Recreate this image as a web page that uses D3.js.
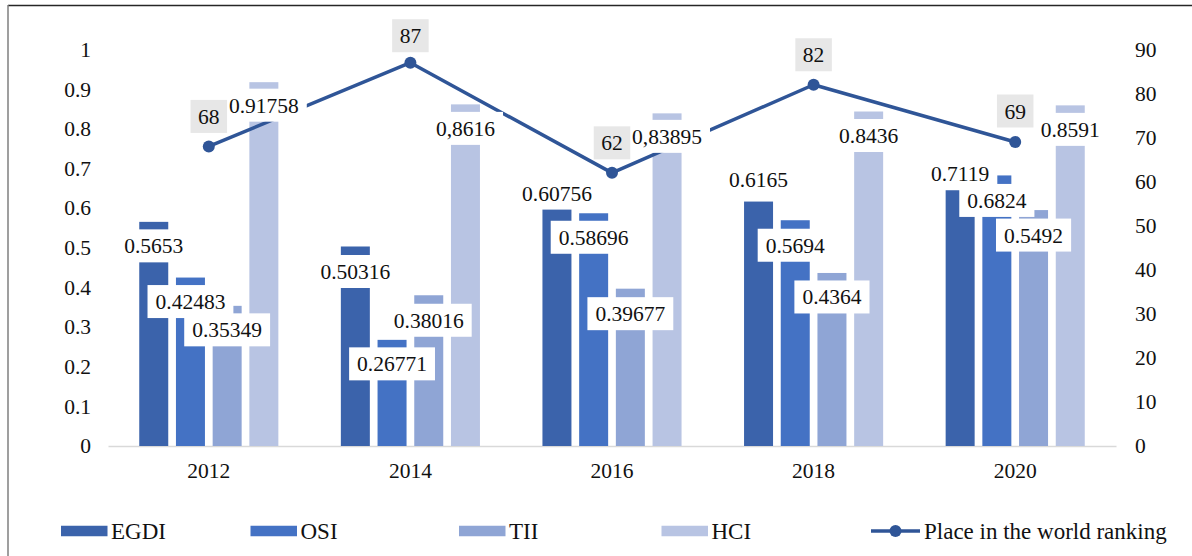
<!DOCTYPE html>
<html>
<head>
<meta charset="utf-8">
<script src="https://cdn.jsdelivr.net/npm/d3@7"></script>
<style>
  html, body { margin: 0; padding: 0; background: #fff; }
  svg { display: block; }
  svg text { font-family: "Liberation Serif", "DejaVu Serif", serif; }
</style>
</head>
<body>
<svg id="chart" width="1192" height="556"></svg>
<script>
// ---------- data ----------
const years = ["2012", "2014", "2016", "2018", "2020"];
const seriesNames = ["EGDI", "OSI", "TII", "HCI"];
const egdi = [0.5653, 0.50316, 0.60756, 0.6165, 0.7119];
const osi  = [0.42483, 0.26771, 0.58696, 0.5694, 0.6824];
const tii  = [0.35349, 0.38016, 0.39677, 0.4364, 0.595];
const hci  = [0.91758, 0.8616, 0.83895, 0.8436, 0.8591];
const egdiLabels = ["0.5653", "0.50316", "0.60756", "0.6165", "0.7119"];
const osiLabels  = ["0.42483", "0.26771", "0.58696", "0.5694", "0.6824"];
const tiiLabels  = ["0.35349", "0.38016", "0.39677", "0.4364", "0.5492"];
const hciLabels  = ["0.91758", "0,8616", "0,83895", "0.8436", "0.8591"];
const ranking = [68, 87, 62, 82, 69];
const rankingName = "Place in the world ranking";
const leftTicks = [0, 0.1, 0.2, 0.3, 0.4, 0.5, 0.6, 0.7, 0.8, 0.9, 1];
const rightTicks = [0, 10, 20, 30, 40, 50, 60, 70, 80, 90];

// ---------- styling / layout ----------
const FONT = "Liberation Serif";
const colors = { EGDI: "#3b63ab", OSI: "#4472c4", TII: "#8fa5d5", HCI: "#b8c4e3" };
const lineColor = "#2f5597";
const labelShift = { EGDI: [24, 25, -12, -22, 10], OSI: [24, 24, 24, 25, 25], TII: [24, 25, 25, 24, 25], HCI: [23, 24, 23, 24, 24] };
const rankShift = [-30, -27, -30, -30, -31];
const fontSize = 21.5;

const svg = d3.select("#chart");
const W = 1192, H = 556;
const plot = { left: 108, right: 1116, top: 49.5, bottom: 446 };

svg.append("rect").attr("width", W).attr("height", H).attr("fill", "#fff");
// outer frame (cropped)
svg.append("line").attr("x1", 8).attr("x2", W).attr("y1", 5.5).attr("y2", 5.5).attr("stroke", "#262626").attr("stroke-width", 1.5);
svg.append("line").attr("x1", 8).attr("x2", 8).attr("y1", 5).attr("y2", H).attr("stroke", "#7f7f7f").attr("stroke-width", 1.5);

const seriesData = { EGDI: egdi, OSI: osi, TII: tii, HCI: hci };
const seriesLabels = { EGDI: egdiLabels, OSI: osiLabels, TII: tiiLabels, HCI: hciLabels };

const x0 = d3.scaleBand().domain(years).range([plot.left, plot.right]).padding(0);
const groupHalf = 69.55;
const x1 = d3.scaleBand().domain(seriesNames).range([-groupHalf, groupHalf]).paddingInner(0.21).paddingOuter(0);
const yL = d3.scaleLinear().domain([0, 1]).range([plot.bottom, plot.top]);
const yR = d3.scaleLinear().domain([0, 90]).range([plot.bottom, plot.top]);

function styleText(sel, size) {
  sel.attr("font-size", size).attr("font-family", FONT).attr("fill", "#111");
}

// axes labels
const gl = svg.append("g").attr("transform", "translate(91,0)")
  .call(d3.axisLeft(yL).tickValues(leftTicks).tickSize(0).tickPadding(0).tickFormat(d3.format("~g")));
gl.attr("font-family", FONT);
gl.select(".domain").remove();
styleText(gl.selectAll("text"), fontSize);

const gr = svg.append("g").attr("transform", "translate(1135,0)")
  .call(d3.axisRight(yR).tickValues(rightTicks).tickSize(0).tickPadding(0));
gr.attr("font-family", FONT);
gr.select(".domain").remove();
styleText(gr.selectAll("text"), fontSize);

const gx = svg.append("g").attr("transform", `translate(0,${plot.bottom})`)
  .call(d3.axisBottom(x0).tickSize(0).tickPadding(17));
gx.attr("font-family", FONT);
gx.select(".domain").attr("stroke", "#d9d9d9").attr("stroke-width", 1.5);
styleText(gx.selectAll("text"), fontSize);

// bars
const barRecords = [];
years.forEach((yr, i) => {
  seriesNames.forEach(s => {
    barRecords.push({ year: yr, i, series: s, value: seriesData[s][i], label: seriesLabels[s][i] });
  });
});

svg.append("g").selectAll("rect").data(barRecords).join("rect")
  .attr("x", d => x0(d.year) + x0.bandwidth() / 2 + x1(d.series))
  .attr("width", x1.bandwidth())
  .attr("y", d => yL(d.value))
  .attr("height", d => yL(0) - yL(d.value))
  .attr("fill", d => colors[d.series]);

// line
const cx = i => x0(years[i]) + x0.bandwidth() / 2;
const line = d3.line().x((d, i) => cx(i)).y(d => yR(d));
svg.append("path").datum(ranking).attr("d", line)
  .attr("fill", "none").attr("stroke", lineColor).attr("stroke-width", 3.5).attr("stroke-linejoin", "round");
svg.append("g").selectAll("circle").data(ranking).join("circle")
  .attr("cx", (d, i) => cx(i)).attr("cy", d => yR(d)).attr("r", 6).attr("fill", lineColor);

// bar labels (white boxes)
const boxH = 33, pad = 8;
const bl = svg.append("g").selectAll("g").data(barRecords).join("g")
  .attr("transform", d => {
    const bx = x0(d.year) + x0.bandwidth() / 2 + x1(d.series) + x1.bandwidth() / 2;
    const by = yL(d.value) + labelShift[d.series][d.i];
    return `translate(${bx},${by})`;
  });
bl.each(function (d) {
  const g = d3.select(this);
  const r = g.append("rect").attr("fill", "#fff");
  const t = g.append("text").text(d.label)
    .attr("text-anchor", "middle").attr("dy", "0.35em");
  styleText(t, fontSize);
  const w = t.node().getComputedTextLength() + pad * 2;
  r.attr("x", -w / 2).attr("y", -boxH / 2).attr("width", w).attr("height", boxH);
});

// ranking labels (gray boxes)
const rl = svg.append("g").selectAll("g").data(ranking).join("g")
  .attr("transform", (d, i) => `translate(${cx(i)},${yR(d) + rankShift[i]})`);
rl.each(function (d) {
  const g = d3.select(this);
  const r = g.append("rect").attr("fill", "#e7e7e7");
  const t = g.append("text").text(d)
    .attr("text-anchor", "middle").attr("dy", "0.35em");
  styleText(t, fontSize);
  const w = t.node().getComputedTextLength() + 15;
  r.attr("x", -w / 2).attr("y", -boxH / 2).attr("width", w).attr("height", boxH);
});

// legend
const legendY = 531;
const legendX = [61, 250.5, 459, 661.5, 871];
const legendItems = seriesNames.map(s => ({ name: s, type: "bar" })).concat([{ name: rankingName, type: "line" }]);
const lg = svg.append("g").selectAll("g").data(legendItems).join("g")
  .attr("transform", (d, i) => `translate(${legendX[i]},${legendY})`);
lg.each(function (d) {
  const g = d3.select(this);
  if (d.type === "bar") {
    g.append("rect").attr("x", 0).attr("y", -5.25).attr("width", 46.5).attr("height", 10.5).attr("fill", colors[d.name]);
  } else {
    g.append("line").attr("x1", 0).attr("x2", 49).attr("y1", 0).attr("y2", 0).attr("stroke", lineColor).attr("stroke-width", 3.5);
    g.append("circle").attr("cx", 24.5).attr("cy", 0).attr("r", 6).attr("fill", lineColor);
  }
  const t = g.append("text").text(d.name).attr("x", d.type === "bar" ? 50 : 53).attr("dy", "0.35em");
  styleText(t, 23);
});
</script>
</body>
</html>
